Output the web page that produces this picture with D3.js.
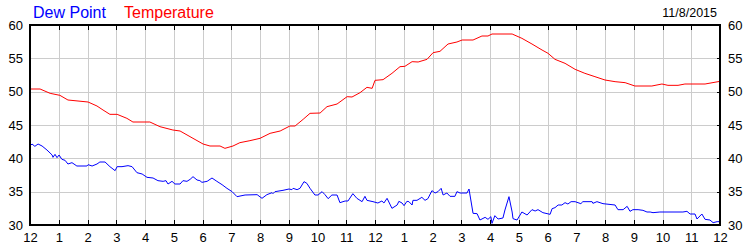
<!DOCTYPE html>
<html>
<head>
<meta charset="utf-8">
<script src="https://cdn.jsdelivr.net/npm/d3@7"></script>
<style>
  body { margin: 0; background: #fff; }
  svg { display: block; font-family: Arial, "Liberation Sans", sans-serif; }
  .grid line { stroke: #cccccc; stroke-width: 1; shape-rendering: crispEdges; }
  .grid path { display: none; }
  .axis path { display: none; }
  .axis line { stroke: #000; shape-rendering: crispEdges; }
  .axis text { font-size: 13px; fill: #000; }
  .frame { fill: none; stroke: #000; stroke-width: 2; shape-rendering: crispEdges; }
  .series { fill: none; stroke-width: 1; }
</style>
</head>
<body>
<div id="chart"></div>
<script>
// hour ticks across the day (12am -> 12am)
const hourTicks = d3.range(0, 25);
const hourLabels = hourTicks.map((h) => String(h % 12 || 12));
const tempTicks = [30, 35, 40, 45, 50, 55, 60];
const dateLabel = `11/8/2015`;
const legendLabels = [`Dew Point`, `Temperature`];

// temperature, hours since midnight / degrees
const tempHours = [0, 0.35, 0.7, 1.04, 1.32, 2.02, 2.33, 2.54, 2.78, 3.03, 3.37, 3.58, 4.17, 4.52, 4.97, 5.22,
  5.67, 6.02, 6.26, 6.61, 6.78, 7.06, 7.3, 7.65, 8.0, 8.35, 8.7, 9.04, 9.22, 9.5, 9.74, 10.09, 10.33, 10.68,
  11.03, 11.2, 11.48, 11.72, 11.9, 12.0, 12.28, 12.59, 12.87, 13.04, 13.29, 13.5, 13.81, 14.02, 14.26, 14.54,
  14.85, 15.03, 15.41, 15.72, 15.93, 16.07, 16.77, 17.11, 17.46, 17.81, 18.02, 18.26, 18.61, 18.96, 19.3,
  19.65, 20.0, 20.35, 20.7, 21.04, 21.63, 21.98, 22.19, 22.54, 22.78, 23.48, 24.0];
const tempValues = [50.4, 50.4, 49.75, 49.45, 48.75, 48.45, 47.85, 47.25, 46.6, 46.6, 46.0, 45.45, 45.45, 44.75,
  44.25, 44.1, 43.0, 42.15, 41.85, 41.85, 41.5, 41.85, 42.35, 42.65, 43.0, 43.75, 44.1, 44.85, 44.85, 45.85,
  46.75, 46.8, 47.75, 48.15, 49.25, 49.2, 49.85, 50.65, 50.5, 51.7, 51.8, 52.75, 53.75, 53.8, 54.5, 54.45,
  54.85, 55.85, 56.05, 57.15, 57.45, 57.75, 57.75, 58.35, 58.35, 58.65, 58.65, 58.0, 57.15, 56.25, 55.75,
  54.85, 54.25, 53.35, 52.75, 52.25, 51.75, 51.5, 51.35, 50.85, 50.85, 51.15, 50.95, 50.95, 51.15, 51.15, 51.55];

// dew point, hours since midnight / degrees
const dewHours = [0, 0.07, 0.17, 0.28, 0.42, 0.59, 0.77, 0.8, 0.87, 0.94, 1.01, 1.11, 1.22, 1.32, 1.46, 1.63,
  1.98, 2.02, 2.16, 2.33, 2.43, 2.61, 2.78, 2.96, 3.03, 3.2, 3.41, 3.55, 3.72, 3.9, 4.07, 4.28, 4.45, 4.63,
  4.73, 4.8, 4.94, 5.04, 5.22, 5.32, 5.46, 5.57, 5.67, 5.81, 5.91, 5.98, 6.16, 6.33, 6.5, 6.68, 6.85, 7.03,
  7.2, 7.48, 7.9, 8.07, 8.24, 8.42, 8.45, 8.52, 8.8, 9.01, 9.11, 9.15, 9.29, 9.39, 9.53, 9.63, 9.74, 9.91,
  10.02, 10.16, 10.26, 10.37, 10.5, 10.68, 10.78, 10.96, 11.06, 11.23, 11.37, 11.55, 11.65, 11.72, 11.93,
  12.1, 12.24, 12.31, 12.42, 12.59, 12.77, 12.83, 12.94, 13.01, 13.11, 13.18, 13.29, 13.32, 13.46, 13.63,
  13.74, 13.84, 13.98, 14.09, 14.19, 14.3, 14.37, 14.5, 14.61, 14.78, 14.85, 14.96, 15.2, 15.27, 15.41,
  15.55, 15.65, 15.83, 15.93, 16.03, 16.07, 16.17, 16.28, 16.45, 16.52, 16.66, 16.77, 16.8, 16.94, 17.11,
  17.29, 17.46, 17.57, 17.67, 17.84, 18.09, 18.16, 18.26, 18.37, 18.5, 18.61, 18.71, 18.82, 18.96, 19.16,
  19.23, 19.55, 19.58, 19.72, 19.93, 20.35, 20.45, 20.63, 20.77, 20.87, 20.97, 21.15, 21.32, 21.46, 21.57,
  21.67, 21.91, 22.71, 22.85, 22.96, 23.13, 23.2, 23.37, 23.48, 23.65, 23.76, 23.9, 24.0];
const dewValues = [41.85, 42.15, 41.8, 42.15, 41.85, 41.25, 40.5, 40.15, 40.6, 40.1, 40.5, 39.85, 39.7, 39.15,
  39.35, 38.85, 38.85, 39.05, 38.85, 39.15, 39.45, 39.45, 38.75, 38.15, 38.75, 38.75, 38.9, 38.75, 37.85,
  37.65, 37.15, 37.05, 36.65, 36.55, 36.65, 36.15, 36.55, 36.15, 36.15, 36.65, 36.55, 36.85, 37.25, 36.75,
  36.65, 36.4, 36.55, 37.05, 36.55, 36.05, 35.5, 35.0, 34.25, 34.5, 34.55, 34.0, 34.55, 34.85, 34.7, 35.0,
  35.2, 35.4, 35.3, 35.5, 35.3, 35.5, 36.5, 36.25, 35.5, 34.5, 34.5, 35.0, 34.55, 33.95, 34.5, 34.5, 33.35,
  33.6, 33.6, 34.7, 34.0, 33.5, 34.3, 33.7, 33.5, 33.3, 33.6, 33.3, 34.0, 32.5, 33.0, 33.55, 33.3, 32.9,
  33.55, 33.5, 33.0, 33.7, 33.7, 34.15, 33.7, 33.95, 35.15, 34.8, 35.0, 35.5, 34.5, 34.8, 34.3, 34.3, 35.0,
  34.8, 34.8, 35.4, 31.75, 31.7, 30.75, 31.15, 30.85, 31.25, 30.25, 31.4, 30.9, 31.05, 32.25, 34.25, 31.95,
  30.95, 30.75, 31.95, 31.5, 32.3, 32.1, 32.3, 31.85, 31.6, 32.45, 32.6, 33.0, 33.0, 33.35, 33.15, 33.5,
  33.5, 33.2, 33.5, 33.5, 33.25, 33.5, 33.2, 33.0, 32.3, 32.3, 32.8, 32.05, 32.3, 32.3, 32.2, 31.95, 31.95,
  31.85, 31.95, 31.95, 32.05, 31.65, 31.65, 30.9, 31.65, 30.85, 30.75, 30.35, 30.5, 30.5];

class WeatherChart {
  constructor(el) {
    this.el = el;
    this.width = 750;
    this.height = 250;
    this.margin = { top: 25, right: 30, bottom: 25, left: 30 };
    this.innerWidth = this.width - this.margin.left - this.margin.right;
    this.innerHeight = this.height - this.margin.top - this.margin.bottom;
    this.x = d3.scaleLinear().domain([0, 24]).range([this.margin.left, this.width - this.margin.right]);
    this.y = d3.scaleLinear().domain([30, 60]).range([this.height - this.margin.bottom, this.margin.top]);
  }

  render() {
    this.svg = d3.select(this.el).append(`svg`)
        .attr(`width`, this.width)
        .attr(`height`, this.height);

    this.drawGrid();
    this.drawSeries(dewHours, dewValues, `#0000ff`);
    this.drawSeries(tempHours, tempValues, `#ff0000`);
    this.drawFrame();
    this.drawAxes();
    this.drawLegend();
  }

  drawGrid() {
    const { x, y } = this;
    this.svg.append(`g`)
        .attr(`class`, `grid`)
        .attr(`transform`, `translate(0,${this.margin.top})`)
        .call(d3.axisBottom(x).tickValues(hourTicks).tickSize(this.innerHeight).tickFormat(``));

    this.svg.append(`g`)
        .attr(`class`, `grid`)
        .attr(`transform`, `translate(${this.margin.left},0)`)
        .call(d3.axisRight(y).tickValues(tempTicks).tickSize(this.innerWidth).tickFormat(``));
  }

  drawSeries(hours, values, color) {
    const line = d3.line()
      .x((d) => this.x(d[0]))
      .y((d) => this.y(d[1]));

    this.svg.append(`path`)
        .datum(d3.zip(hours, values))
        .attr(`class`, `series`)
        .attr(`stroke`, color)
        .attr(`d`, line);
  }

  drawFrame() {
    this.svg.append(`rect`)
        .attr(`class`, `frame`)
        .attr(`x`, this.margin.left)
        .attr(`y`, this.margin.top)
        .attr(`width`, this.innerWidth)
        .attr(`height`, this.innerHeight);
  }

  drawAxes() {
    const { x, y } = this;
    const bottom = this.height - this.margin.bottom;
    const right = this.width - this.margin.right;

    // bottom: inward ticks + hour labels
    this.svg.append(`g`)
        .attr(`class`, `axis`)
        .attr(`transform`, `translate(0,${bottom})`)
        .call(d3.axisBottom(x).tickValues(hourTicks).tickSizeInner(-5).tickSizeOuter(0).tickPadding(8)
          .tickFormat((d, i) => hourLabels[i]));

    // top: inward ticks only
    this.svg.append(`g`)
        .attr(`class`, `axis`)
        .attr(`transform`, `translate(0,${this.margin.top})`)
        .call(d3.axisTop(x).tickValues(hourTicks).tickSizeInner(-5).tickSizeOuter(0).tickFormat(``));

    this.svg.append(`g`)
        .attr(`class`, `axis`)
        .attr(`transform`, `translate(${this.margin.left},0)`)
        .call(d3.axisLeft(y).tickValues(tempTicks).tickSizeInner(0).tickSizeOuter(0).tickPadding(7));

    this.svg.append(`g`)
        .attr(`class`, `axis`)
        .attr(`transform`, `translate(${right},0)`)
        .call(d3.axisRight(y).tickValues(tempTicks).tickSizeInner(-3).tickSizeOuter(0).tickPadding(8));
  }

  drawLegend() {
    this.svg.append(`text`)
        .attr(`x`, 33)
        .attr(`y`, 17.5)
        .attr(`font-size`, 16)
        .attr(`fill`, `#0000ff`)
        .text(legendLabels[0]);

    this.svg.append(`text`)
        .attr(`x`, 124)
        .attr(`y`, 17.5)
        .attr(`font-size`, 16)
        .attr(`fill`, `#ff0000`)
        .text(legendLabels[1]);

    this.svg.append(`text`)
        .attr(`x`, 717)
        .attr(`y`, 17)
        .attr(`font-size`, 12.5)
        .attr(`text-anchor`, `end`)
        .attr(`fill`, `#000`)
        .text(dateLabel);
  }
}

new WeatherChart(`#chart`).render();
</script>
</body>
</html>
